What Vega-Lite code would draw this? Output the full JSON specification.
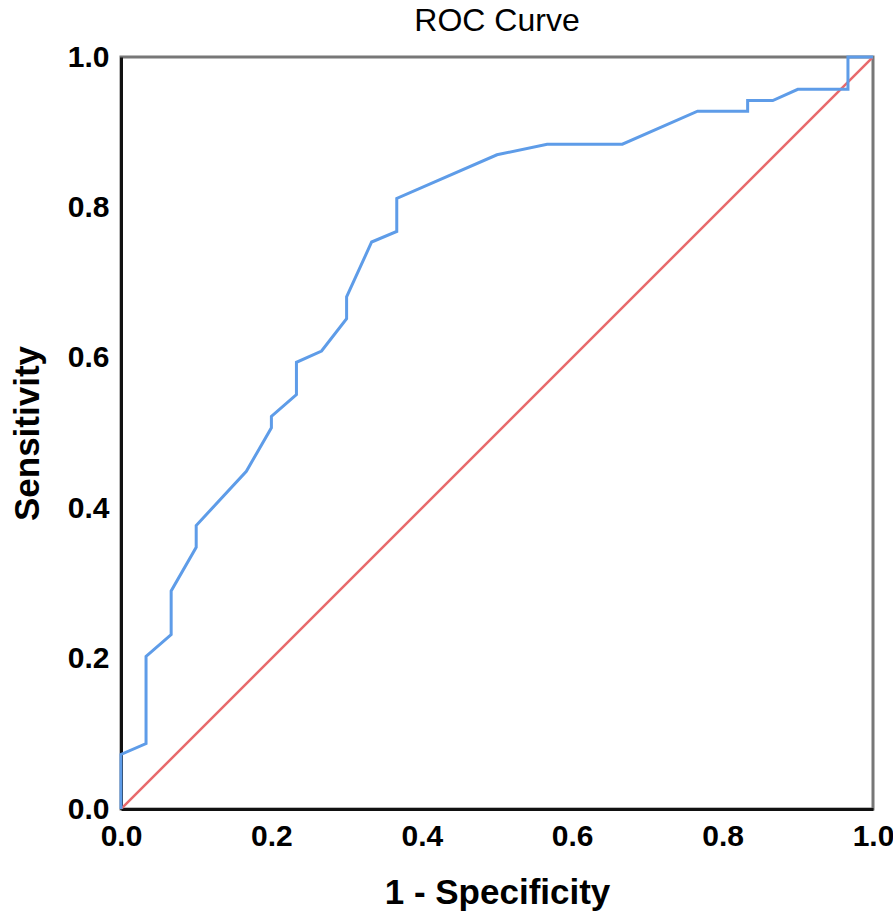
{
  "$schema": "https://vega.github.io/schema/vega-lite/v6.json",
  "autosize": "none",
  "width": 752,
  "height": 752,
  "padding": {"left": 121, "top": 57, "right": 20, "bottom": 111},
  "background": "white",
  "title": {"text": "ROC Curve", "font": "Liberation Sans", "fontSize": 32, "fontWeight": "normal", "color": "#000000", "anchor": "middle", "offset": 4},
  "config": {
    "view": {"stroke": "#777777", "strokeWidth": 3},
    "axis": {"grid": false, "ticks": false, "domainColor": "#111111", "domainWidth": 3, "labelFlush": false,
             "labelFont": "Liberation Sans", "labelFontSize": 30, "labelFontWeight": "bold", "labelColor": "#000000",
             "titleFont": "Liberation Sans", "titleFontSize": 35, "titleFontWeight": "bold", "titleColor": "#000000"}
  },
  "datasets": {
    "roc": [
      {"fpr": 0.0, "tpr": 0.0, "o": 0},
      {"fpr": 0.0, "tpr": 0.0725, "o": 1},
      {"fpr": 0.0333, "tpr": 0.087, "o": 2},
      {"fpr": 0.0333, "tpr": 0.203, "o": 3},
      {"fpr": 0.0667, "tpr": 0.232, "o": 4},
      {"fpr": 0.0667, "tpr": 0.29, "o": 5},
      {"fpr": 0.1, "tpr": 0.348, "o": 6},
      {"fpr": 0.1, "tpr": 0.377, "o": 7},
      {"fpr": 0.1667, "tpr": 0.449, "o": 8},
      {"fpr": 0.2, "tpr": 0.507, "o": 9},
      {"fpr": 0.2, "tpr": 0.522, "o": 10},
      {"fpr": 0.2333, "tpr": 0.551, "o": 11},
      {"fpr": 0.2333, "tpr": 0.594, "o": 12},
      {"fpr": 0.2667, "tpr": 0.609, "o": 13},
      {"fpr": 0.3, "tpr": 0.652, "o": 14},
      {"fpr": 0.3, "tpr": 0.681, "o": 15},
      {"fpr": 0.3333, "tpr": 0.754, "o": 16},
      {"fpr": 0.3667, "tpr": 0.768, "o": 17},
      {"fpr": 0.3667, "tpr": 0.812, "o": 18},
      {"fpr": 0.5, "tpr": 0.870, "o": 19},
      {"fpr": 0.5667, "tpr": 0.884, "o": 20},
      {"fpr": 0.6667, "tpr": 0.884, "o": 21},
      {"fpr": 0.7667, "tpr": 0.928, "o": 22},
      {"fpr": 0.8333, "tpr": 0.928, "o": 23},
      {"fpr": 0.8333, "tpr": 0.942, "o": 24},
      {"fpr": 0.8667, "tpr": 0.942, "o": 25},
      {"fpr": 0.9, "tpr": 0.957, "o": 26},
      {"fpr": 0.9667, "tpr": 0.957, "o": 27},
      {"fpr": 0.9667, "tpr": 1.0, "o": 28},
      {"fpr": 1.0, "tpr": 1.0, "o": 29}
    ],
    "ref": [
      {"fpr": 0.0, "tpr": 0.0},
      {"fpr": 1.0, "tpr": 1.0}
    ]
  },
  "layer": [
    {
      "data": {"name": "ref"},
      "mark": {"type": "line", "color": "#e8696b", "strokeWidth": 2.5, "clip": true},
      "encoding": {
        "x": {"field": "fpr", "type": "quantitative", "scale": {"domain": [0, 1], "nice": false},
              "axis": {"title": "1 - Specificity", "values": [0, 0.2, 0.4, 0.6, 0.8, 1.0], "format": ".1f", "labelPadding": 12, "titlePadding": 24}},
        "y": {"field": "tpr", "type": "quantitative", "scale": {"domain": [0, 1], "nice": false},
              "axis": {"title": "Sensitivity", "values": [0, 0.2, 0.4, 0.6, 0.8, 1.0], "format": ".1f", "labelPadding": 12, "titlePadding": 22}}
      }
    },
    {
      "data": {"name": "roc"},
      "mark": {"type": "line", "color": "#5e9ce8", "strokeWidth": 3},
      "encoding": {
        "x": {"field": "fpr", "type": "quantitative"},
        "y": {"field": "tpr", "type": "quantitative"},
        "order": {"field": "o", "type": "quantitative"}
      }
    }
  ]
}
